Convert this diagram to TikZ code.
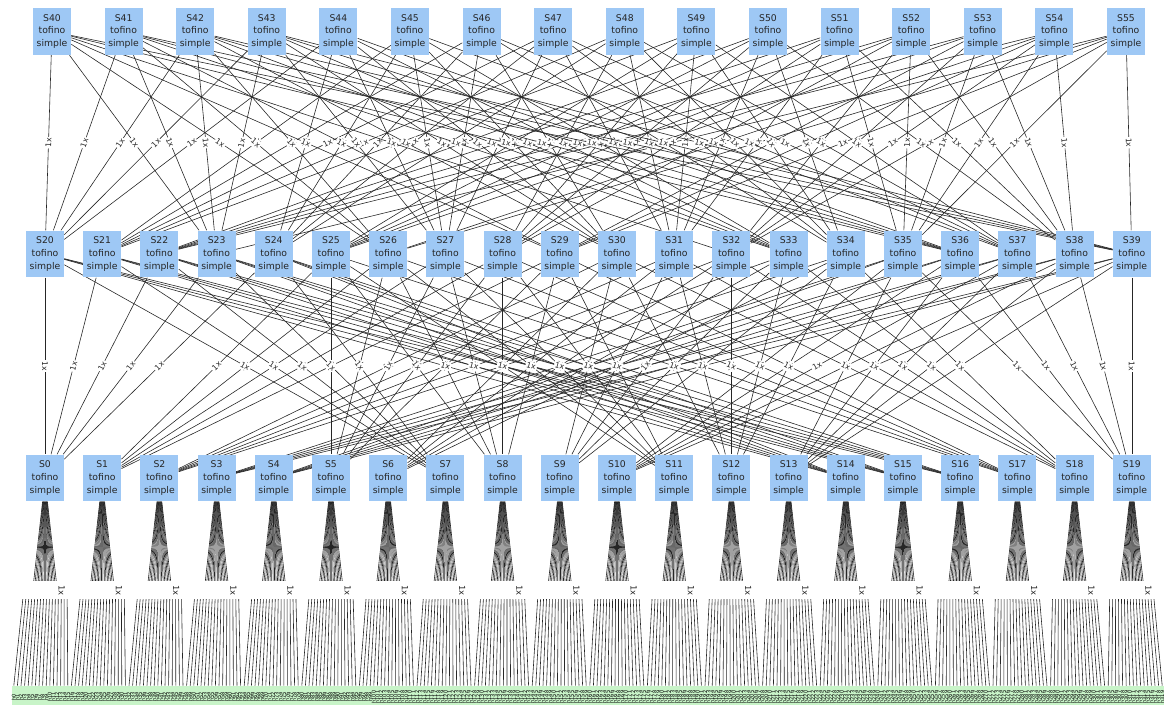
\documentclass[tikz,border=0pt]{standalone}
\usepackage{fontspec}
\setmainfont{DejaVu Sans}
\usepackage{xcolor}
\usetikzlibrary{calc}

\definecolor{swblue}{RGB}{158,200,245}
\definecolor{hostgreen}{RGB}{200,244,200}

\pgfdeclarelayer{bg}
\pgfsetlayers{bg,main}

\begin{document}
\begin{tikzpicture}[
  x=0.025cm, y=-0.025cm,
  switch/.style={fill=swblue, minimum width=0.95cm, minimum height=1.17cm, inner sep=1pt, align=center, font=\fontsize{6.6}{9}\selectfont, text=black!85},
  host/.style={fill=hostgreen, minimum width=0.09cm, minimum height=0.5cm, inner sep=0pt, font=\fontsize{3.6}{3.6}\selectfont},
  link/.style={black!85, line width=0.42pt},
  lbl/.style={fill=white, inner sep=0.7pt, font=\fontsize{5.5}{5.5}\selectfont, sloped},
  fanlbl/.style={fill=white, inner xsep=2.6pt, inner ysep=3.2pt, font=\fontsize{6}{6}\selectfont, rotate=-90}
]
\useasboundingbox (0,0) rectangle (1164,704);

% spine, aggregation and leaf switches
\foreach \k in {0,...,15} {
  \pgfmathtruncatemacro\n{40+\k}
  \node[switch] (S\n) at ({52+71.6*\k},31.5) {S\n\\tofino\\simple};
}
\foreach \j in {0,...,19} {
  \pgfmathtruncatemacro\n{20+\j}
  \node[switch] (S\n) at ({45+57.2*\j},254) {S\n\\tofino\\simple};
  \node[switch] (S\j) at ({45+57.2*\j},478) {S\j\\tofino\\simple};
}

% hosts
\foreach \h in {0,...,319}
  \node[host] (h\h) at ({13.8+3.6*\h},696) {\makebox[0pt]{\raisebox{-1.6pt}{\rotatebox{90}{\makebox[0pt]{h\h}}}}};

\begin{pgfonlayer}{bg}
% spine -- aggregation
\foreach \j in {0,...,19}
  \foreach \k in {0,...,4} {
    \pgfmathtruncatemacro\a{20+\j}
    \pgfmathtruncatemacro\s{40+mod(5*\j+\k,16)}
    \draw[link] (S\s) -- node[lbl] {1x} (S\a);
  }

% aggregation -- leaf
\foreach \i/\g in {0/0,1/1,2/2,3/3,4/3,5/1,6/2,7/0,8/1,9/2,10/3,11/1,12/2,13/3,14/0,15/0,16/0,17/1,18/2,19/3}
  \foreach \k in {0,...,4} {
    \pgfmathtruncatemacro\a{20+5*\g+\k}
    \draw[link] (S\a) -- node[lbl] {1x} (S\i);
  }

% leaf -- host fans
\foreach \i in {0,...,19}
  \foreach \m in {0,...,15} {
    \pgfmathtruncatemacro\h{16*\i+\m}
    \pgfmathsetmacro\o{3.6*(\m-7.5)}
    \draw[link] ($(S\i.south)+(0.09*\o,0)$) -- ($(S\i.south)+(0.42*\o,80)$)
      -- node[fanlbl] {1x} ($(S\i.south)+(0.82*\o,97)$) -- (h\h.north);
  }
\end{pgfonlayer}
\end{tikzpicture}
\end{document}
